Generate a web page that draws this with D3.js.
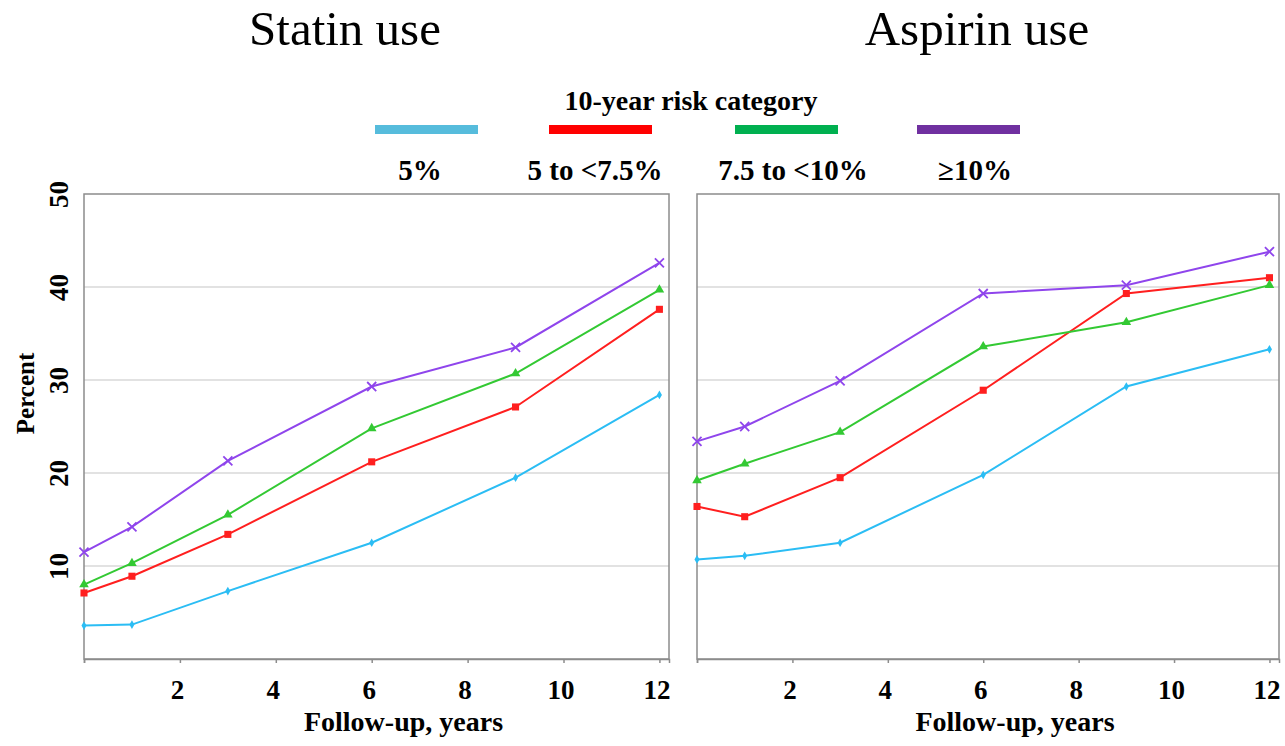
<!DOCTYPE html>
<html>
<head>
<meta charset="utf-8">
<script src="https://cdn.jsdelivr.net/npm/d3@7"></script>
<style>
  html, body { margin: 0; padding: 0; background: #fff; }
  svg { display: block; }
  text { font-family: "Liberation Serif", "Times New Roman", serif; fill: #000; }
</style>
</head>
<body>
<svg id="chart" width="1285" height="746"></svg>
<script>
// ---- data ----
const years = [0, 1, 3, 6, 9, 12];
const categories = ["5%", "5 to <7.5%", "7.5 to <10%", "\u226510%"];
const statin5 = [3.6, 3.7, 7.3, 12.5, 19.5, 28.4];
const statin5to75 = [7.1, 8.9, 13.4, 21.2, 27.1, 37.6];
const statin75to10 = [8.0, 10.3, 15.5, 24.8, 30.7, 39.7];
const statin10plus = [11.5, 14.2, 21.3, 29.3, 33.5, 42.6];
const aspirin5 = [10.7, 11.1, 12.5, 19.8, 29.3, 33.3];
const aspirin5to75 = [16.4, 15.3, 19.5, 28.9, 39.3, 41.0];
const aspirin75to10 = [19.2, 21.0, 24.4, 33.6, 36.2, 40.2];
const aspirin10plus = [23.4, 25.0, 29.9, 39.3, 40.2, 43.8];
const xTicks = [2, 4, 6, 8, 10, 12];
const yTicks = [10, 20, 30, 40, 50];
const panelTitles = ["Statin use", "Aspirin use"];
const legendTitle = "10-year risk category";
const xLabel = "Follow-up, years";
const yLabel = "Percent";

// ---- styles ----
const lineColors = ["#2bbdf4", "#ff1f1f", "#33c933", "#8f45ec"];
const legendColors = ["#56bcdc", "#ff0000", "#00b050", "#7030a0"];
const markerTypes = [d3.symbolDiamond, d3.symbolSquare, d3.symbolTriangle, d3.symbolX];
const markerSizes = [22, 50, 40, 55];

const svg = d3.select("#chart");
const panels = [
  { title: panelTitles[0], series: [statin5, statin5to75, statin75to10, statin10plus], x0: 84, x1: 669, showY: true, tcx: 345 },
  { title: panelTitles[1], series: [aspirin5, aspirin5to75, aspirin75to10, aspirin10plus], x0: 697, x1: 1279, showY: false, tcx: 977 }
];
const yTop = 194, yBot = 659;
const y = d3.scaleLinear().domain([0, 50]).range([yBot, yTop]);

panels.forEach(p => {
  const x = d3.scaleLinear().domain([0, 12.2]).range([p.x0, p.x1]);
  const g = svg.append("g");
  // gridlines
  g.selectAll("line.grid").data([10, 20, 30, 40]).join("line")
    .attr("x1", p.x0).attr("x2", p.x1)
    .attr("y1", d => y(d)).attr("y2", d => y(d))
    .attr("stroke", "#d9d9d9").attr("stroke-width", 1.5);
  // frame
  g.append("rect").attr("x", p.x0).attr("y", yTop).attr("width", p.x1 - p.x0).attr("height", yBot - yTop)
    .attr("fill", "none").attr("stroke", "#8c8c8c").attr("stroke-width", 1.5);
  // x axis
  const xa = d3.axisBottom(x).tickValues([0].concat(xTicks)).tickSize(4).tickFormat(d => d === 0 ? "" : d);
  const ax = g.append("g").attr("transform", `translate(0,${yBot})`).call(xa);
  ax.select(".domain").attr("stroke", "#8c8c8c").attr("stroke-width", 1.5);
  ax.selectAll(".tick line").attr("stroke", "#8c8c8c").attr("stroke-width", 1.5);
  ax.selectAll(".tick text").attr("font-family", "Liberation Serif").attr("font-weight", "bold")
    .attr("font-size", 27).attr("fill", "#000").attr("y", 0).attr("dy", 0)
    .attr("transform", "translate(-3,40)");
  // y axis labels
  if (p.showY) {
    const ya = d3.axisLeft(y).tickValues(yTicks).tickSize(0).tickFormat(d => d);
    const ay = g.append("g").attr("transform", `translate(${p.x0},0)`).call(ya);
    ay.select(".domain").remove();
    ay.selectAll(".tick text").attr("font-family", "Liberation Serif").attr("font-weight", "bold")
      .attr("font-size", 27).attr("fill", "#000")
      .attr("x", 0).attr("dy", 0).attr("text-anchor", "middle")
      .attr("transform", "translate(-16,0) rotate(-90)");
    svg.append("text").attr("transform", `translate(34,${(yTop + yBot) / 2 - 33}) rotate(-90)`)
      .attr("text-anchor", "middle").attr("font-weight", "bold").attr("font-size", 25).text(yLabel);
  }
  // x label
  svg.append("text").attr("x", (p.x0 + p.x1) / 2 + 27).attr("y", 731)
    .attr("text-anchor", "middle").attr("font-weight", "bold").attr("font-size", 28).text(xLabel);
  // title
  svg.append("text").attr("x", p.tcx).attr("y", 45).attr("text-anchor", "middle")
    .attr("font-size", 49).text(p.title);
  // lines
  const line = d3.line().x((d, i) => x(years[i])).y(d => y(d));
  p.series.forEach((s, k) => {
    g.append("path").datum(s).attr("d", line).attr("fill", "none")
      .attr("stroke", lineColors[k]).attr("stroke-width", 2);
    g.selectAll(null).data(s).join("path")
      .attr("transform", (d, i) => `translate(${x(years[i])},${y(d)})`)
      .attr("d", d3.symbol().type(markerTypes[k]).size(markerSizes[k]))
      .attr("fill", k === 3 ? "none" : lineColors[k])
      .attr("stroke", lineColors[k]).attr("stroke-width", k === 3 ? 1.8 : 0);
  });
});

// ---- legend ----
svg.append("text").attr("x", 691).attr("y", 110).attr("text-anchor", "middle")
  .attr("font-weight", "bold").attr("font-size", 28).text(legendTitle);
const swX = [375, 549, 735, 917];
const labX = [420, 595, 793, 975];
categories.forEach((c, k) => {
  svg.append("rect").attr("x", swX[k]).attr("y", 125).attr("width", 103).attr("height", 9)
    .attr("fill", legendColors[k]);
  svg.append("text").attr("x", labX[k]).attr("y", 180).attr("text-anchor", "middle")
    .attr("font-weight", "bold").attr("font-size", 29).text(c);
});
</script>
</body>
</html>
